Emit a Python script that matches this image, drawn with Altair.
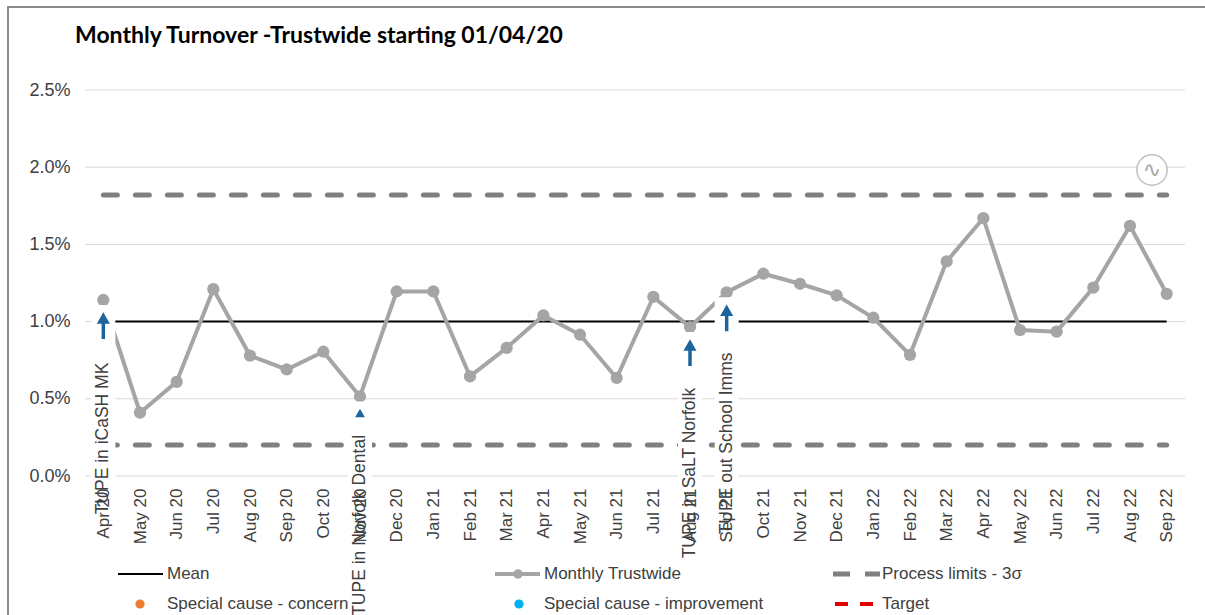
import altair as alt
import pandas as pd

# ---------------- data ----------------
months = ["Apr 20", "May 20", "Jun 20", "Jul 20", "Aug 20", "Sep 20", "Oct 20", "Nov 20",
          "Dec 20", "Jan 21", "Feb 21", "Mar 21", "Apr 21", "May 21", "Jun 21", "Jul 21",
          "Aug 21", "Sep 21", "Oct 21", "Nov 21", "Dec 21", "Jan 22", "Feb 22", "Mar 22",
          "Apr 22", "May 22", "Jun 22", "Jul 22", "Aug 22", "Sep 22"]
turnover = [1.14, 0.41, 0.61, 1.21, 0.78, 0.69, 0.805, 0.515,
            1.195, 1.195, 0.645, 0.83, 1.04, 0.915, 0.635, 1.16,
            0.965, 1.19, 1.31, 1.245, 1.17, 1.025, 0.785, 1.39,
            1.67, 0.945, 0.935, 1.22, 1.62, 1.18]
mean_value = 1.0
upper_limit = 1.82
lower_limit = 0.20
y_ticks = [0.0, 0.5, 1.0, 1.5, 2.0, 2.5]

annot_months = ["Apr 20", "Nov 20", "Aug 21", "Sep 21"]
annot_labels = ["TUPE in iCaSH MK", "TUPE in Norfolk Dental", "TUPE in SaLT Norfolk", "TUPE out School Imms"]
annot_text_top = [0.734, 0.266, 0.571, 0.80]
annot_box_top = [0.75, 0.38, 0.59, 0.82]
annot_box_bottom = [-0.25, -1.0, -0.56, -0.47]

legend_labels = ["Mean", "Monthly Trustwide", "Process limits - 3\u03c3",
                 "Special cause - concern", "Special cause  - improvement", "Target"]

title_text = ["Monthly Turnover -Trustwide starting 01/04/20"]

# ---------------- styles / layout ----------------
W, H = 1100, 386
GRAY = "#a5a5a5"
LIMIT = "#808080"
BLUE = "#1b659c"
TXT = "#404040"
FONT = "Liberation Sans"

df = pd.DataFrame({"month": months, "value": turnover})
lim = pd.DataFrame({"month": months,
                    "mean": [mean_value] * len(months),
                    "ucl": [upper_limit] * len(months),
                    "lcl": [lower_limit] * len(months)})
val_of = dict(zip(months, turnover))
ann = pd.DataFrame({"month": annot_months, "label": annot_labels,
                    "value": [val_of[m] for m in annot_months],
                    "ttop": annot_text_top, "btop": annot_box_top, "bbot": annot_box_bottom})
grid_df = pd.DataFrame({"v": y_ticks})
one = grid_df.head(1)

xenc = alt.X("month:N", sort=months, scale=alt.Scale(type="point", padding=0.5),
             axis=alt.Axis(title=None, labelAngle=270, labelAlign="right", labelBaseline="middle",
                           labelPadding=12, ticks=False, domain=False, grid=False,
                           labelFont=FONT, labelFontSize=17, labelColor=TXT,
                           labelOverlap=False, labelLimit=300, zindex=1))
yscale = alt.Scale(domain=[0, 2.5], nice=False, zero=False)
yax = alt.Axis(title=None, values=y_ticks, labelExpr="format(datum.value, '.1f') + '%'",
               ticks=False, domain=False, grid=False, labelPadding=15,
               labelFont=FONT, labelFontSize=18, labelColor=TXT, zindex=1)

base = alt.Chart(df)

frame = alt.Chart(one).mark_rect(filled=False, stroke="#8a8a8a", strokeWidth=2).encode(
    x=alt.value(-77), x2=alt.value(1140), y=alt.value(-83), y2=alt.value(560))

title = alt.Chart(pd.DataFrame({"t": title_text})).mark_text(
    align="left", baseline="alphabetic", font="Lato", fontSize=23, fontWeight="bold",
    color="black").encode(x=alt.value(-10), y=alt.value(-47), text="t:N")

grid = alt.Chart(grid_df).mark_rule(color="#d9d9d9", strokeWidth=1).encode(
    y=alt.Y("v:Q", scale=yscale, axis=yax), x=alt.value(0), x2=alt.value(W))

ucl = alt.Chart(lim).mark_line(color=LIMIT, strokeWidth=5, strokeDash=[14, 18], strokeCap="round").encode(
    x=xenc, y=alt.Y("ucl:Q", scale=yscale))
lcl = alt.Chart(lim).mark_line(color=LIMIT, strokeWidth=5, strokeDash=[14, 18], strokeCap="round").encode(
    x=xenc, y=alt.Y("lcl:Q", scale=yscale))
mean = alt.Chart(lim).mark_line(color="black", strokeWidth=2).encode(
    x=xenc, y=alt.Y("mean:Q", scale=yscale))

line = base.mark_line(color=GRAY, strokeWidth=4).encode(x=xenc, y=alt.Y("value:Q", scale=yscale))
pts = base.mark_circle(color=GRAY, size=150, opacity=1).encode(x=xenc, y=alt.Y("value:Q", scale=yscale))

arrow_box = alt.Chart(ann).mark_rule(color="white", strokeWidth=24, yOffset=5, y2Offset=44).encode(
    x=xenc, y=alt.Y("value:Q", scale=yscale), y2="value:Q")
arrow_shaft = alt.Chart(ann).mark_rule(color=BLUE, strokeWidth=3.5, yOffset=21, y2Offset=39).encode(
    x=xenc, y=alt.Y("value:Q", scale=yscale), y2="value:Q")
arrow_head = alt.Chart(ann).mark_point(shape="triangle-up", filled=True, size=170, color=BLUE,
                                       opacity=1, yOffset=18).encode(
    x=xenc, y=alt.Y("value:Q", scale=yscale))

label_box = alt.Chart(ann).mark_rule(color="white", strokeWidth=24).encode(
    x=xenc, y=alt.Y("btop:Q", scale=yscale), y2="bbot:Q")
label_txt = alt.Chart(ann).mark_text(angle=270, align="right", baseline="middle",
                                     font=FONT, fontSize=17.5, color=TXT).encode(
    x=xenc, y=alt.Y("ttop:Q", scale=yscale), text="label:N")

# icon (top right)
icon = alt.Chart(one).mark_point(shape="circle", size=920, filled=True, fill="white",
                                 stroke="#c0c0c0", strokeWidth=1.5, opacity=1).encode(
    x=alt.value(1067), y=alt.value(80))
icon_glyph = alt.Chart(one).mark_text(text="\u223f", font="DejaVu Sans", fontSize=22,
                                      color="#a6a6a6", baseline="middle").encode(
    x=alt.value(1067), y=alt.value(80))

# ---------------- manual legend ----------------
col_x = [33, 410, 748]
row_y = [484, 514]
leg = pd.DataFrame({
    "label": legend_labels,
    "tx": [col_x[i % 3] + 49 for i in range(6)],
    "ty": [row_y[i // 3] for i in range(6)],
})
leg_text = alt.Chart(leg).mark_text(align="left", baseline="middle", font=FONT, fontSize=17,
                                    color=TXT).encode(
    x=alt.X("tx:Q", scale=None), y=alt.Y("ty:Q", scale=None), text="label:N")

leg_mean = alt.Chart(one).mark_rule(color="black", strokeWidth=2).encode(
    x=alt.value(col_x[0]), x2=alt.value(col_x[0] + 45), y=alt.value(row_y[0]))
leg_line = alt.Chart(one).mark_rule(color=GRAY, strokeWidth=4).encode(
    x=alt.value(col_x[1]), x2=alt.value(col_x[1] + 45), y=alt.value(row_y[0]))
leg_dot = alt.Chart(one).mark_circle(color=GRAY, size=90, opacity=1).encode(
    x=alt.value(col_x[1] + 23), y=alt.value(row_y[0]))
leg_lim = alt.Chart(one).mark_rule(color=LIMIT, strokeWidth=5, strokeDash=[17, 15]).encode(
    x=alt.value(col_x[2]), x2=alt.value(col_x[2] + 47), y=alt.value(row_y[0]))
leg_concern = alt.Chart(one).mark_circle(color="#ed7d31", size=85, opacity=1).encode(
    x=alt.value(col_x[0] + 22), y=alt.value(row_y[1]))
leg_improve = alt.Chart(one).mark_circle(color="#00b0f0", size=85, opacity=1).encode(
    x=alt.value(col_x[1] + 24), y=alt.value(row_y[1]))
leg_target = alt.Chart(one).mark_rule(color="#e00000", strokeWidth=4, strokeDash=[13, 12]).encode(
    x=alt.value(col_x[2] + 2), x2=alt.value(col_x[2] + 45), y=alt.value(row_y[1]))

chart = alt.layer(
    frame, title, grid, ucl, lcl, mean, line, pts,
    arrow_box, arrow_shaft, arrow_head, label_box, label_txt,
    icon, icon_glyph,
    leg_mean, leg_line, leg_dot, leg_lim, leg_concern, leg_improve, leg_target, leg_text,
).properties(
    width=W, height=H,
    autosize=alt.AutoSizeParams(type="none"),
    padding={"left": 85, "top": 90, "right": 20, "bottom": 139},
    background="white",
).configure_view(stroke=None)

chart.save("out.html", embed_options={"renderer": "svg", "actions": False})
